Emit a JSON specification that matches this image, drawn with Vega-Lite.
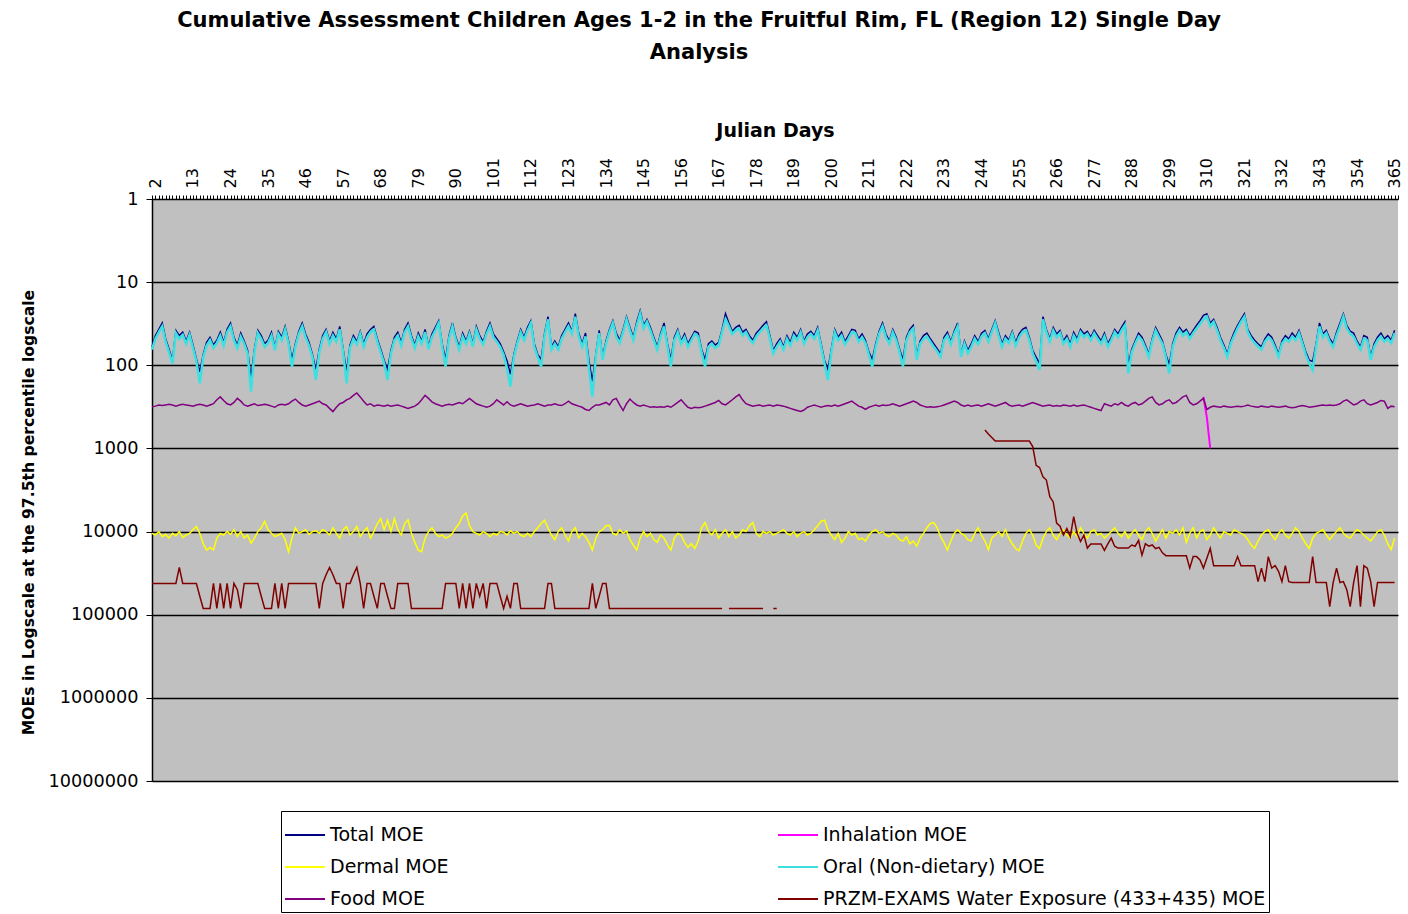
{
"$schema": "https://vega.github.io/schema/vega-lite/v6.json",
"width": 1246, "height": 582,
"autosize": {"type": "none"},
"padding": {"left": 152, "top": 199, "right": 10, "bottom": 133},
"background": "white",
"title": {"text": ["Cumulative Assessment Children Ages 1-2 in the Fruitful Rim, FL (Region 12) Single Day", "Analysis"], "anchor": "middle", "frame": "group", "dx": -76, "offset": 58, "font": "DejaVu Sans", "fontSize": 21, "fontWeight": "bold", "lineHeight": 32, "color": "black"},
"config": {
  "view": {"fill": "#c0c0c0", "stroke": null},
  "legend": {"orient": "none", "legendX": 129, "legendY": 612, "direction": "horizontal", "columns": 2, "columnPadding": 325, "rowPadding": 1, "padding": 3, "strokeColor": "black", "fillColor": "white", "symbolType": "stroke", "symbolSize": 1600, "symbolStrokeWidth": 2, "labelFont": "DejaVu Sans", "labelFontSize": 19, "labelLimit": 800, "labelOffset": 4, "labelColor": "black"}
},
"datasets": {
"inh": [{"d":309,"i":240},{"d":310,"i":420},{"d":311,"i":1000}],
"main": [
{"d":1,"o":65,"t":60,"f":315,"m":10500,"w":42000},
{"d":2,"o":48,"t":44,"f":310,"m":11000,"w":42000},
{"d":3,"o":40,"t":37,"f":300,"m":10000,"w":42000},
{"d":4,"o":34,"t":31,"f":305,"m":11500,"w":42000},
{"d":5,"o":52,"t":48,"f":300,"m":10800,"w":42000},
{"d":6,"o":70,"t":64,"f":295,"m":12000,"w":42000},
{"d":7,"o":95,"t":87,"f":300,"m":10500,"w":42000},
{"d":8,"o":41,"t":38,"f":310,"m":11200,"w":42000},
{"d":9,"o":48,"t":44,"f":300,"m":10000,"w":27000},
{"d":10,"o":43,"t":40,"f":295,"m":11800,"w":42000},
{"d":11,"o":55,"t":51,"f":300,"m":11000,"w":42000},
{"d":12,"o":43,"t":40,"f":305,"m":10500,"w":42000},
{"d":13,"o":62,"t":57,"f":310,"m":9500,"w":42000},
{"d":14,"o":90,"t":83,"f":300,"m":8700,"w":42000},
{"d":15,"o":165,"t":120,"f":295,"m":10500,"w":60000},
{"d":16,"o":80,"t":74,"f":300,"m":14000,"w":84000},
{"d":17,"o":58,"t":53,"f":310,"m":16700,"w":84000},
{"d":18,"o":50,"t":46,"f":300,"m":15500,"w":84000},
{"d":19,"o":62,"t":57,"f":290,"m":16700,"w":42000},
{"d":20,"o":54,"t":50,"f":260,"m":12000,"w":84000},
{"d":21,"o":44,"t":40,"f":240,"m":10500,"w":42000},
{"d":22,"o":58,"t":53,"f":265,"m":11000,"w":84000},
{"d":23,"o":40,"t":37,"f":290,"m":10000,"w":42000},
{"d":24,"o":34,"t":31,"f":300,"m":10800,"w":84000},
{"d":25,"o":50,"t":46,"f":280,"m":9500,"w":42000},
{"d":26,"o":62,"t":57,"f":250,"m":11500,"w":50000},
{"d":27,"o":45,"t":41,"f":270,"m":10000,"w":84000},
{"d":28,"o":55,"t":51,"f":300,"m":12000,"w":42000},
{"d":29,"o":72,"t":66,"f":310,"m":11000,"w":42000},
{"d":30,"o":208,"t":140,"f":300,"m":13800,"w":42000},
{"d":31,"o":70,"t":64,"f":290,"m":12000,"w":42000},
{"d":32,"o":41,"t":38,"f":305,"m":10000,"w":42000},
{"d":33,"o":48,"t":44,"f":300,"m":9000,"w":60000},
{"d":34,"o":60,"t":55,"f":295,"m":7500,"w":84000},
{"d":35,"o":54,"t":50,"f":300,"m":9500,"w":84000},
{"d":36,"o":44,"t":40,"f":310,"m":10500,"w":84000},
{"d":37,"o":66,"t":61,"f":320,"m":11500,"w":42000},
{"d":38,"o":42,"t":39,"f":300,"m":11000,"w":84000},
{"d":39,"o":50,"t":46,"f":295,"m":10500,"w":42000},
{"d":40,"o":37,"t":34,"f":300,"m":12500,"w":84000},
{"d":41,"o":55,"t":51,"f":290,"m":17500,"w":42000},
{"d":42,"o":104,"t":85,"f":270,"m":12000,"w":42000},
{"d":43,"o":60,"t":55,"f":255,"m":9000,"w":42000},
{"d":44,"o":42,"t":39,"f":280,"m":10500,"w":42000},
{"d":45,"o":34,"t":31,"f":300,"m":10000,"w":42000},
{"d":46,"o":46,"t":42,"f":310,"m":9500,"w":42000},
{"d":47,"o":58,"t":53,"f":300,"m":10800,"w":42000},
{"d":48,"o":80,"t":74,"f":290,"m":10000,"w":42000},
{"d":49,"o":150,"t":112,"f":280,"m":9800,"w":42000},
{"d":50,"o":70,"t":64,"f":270,"m":10500,"w":84000},
{"d":51,"o":48,"t":44,"f":290,"m":9500,"w":42000},
{"d":52,"o":40,"t":37,"f":300,"m":10000,"w":33000},
{"d":53,"o":55,"t":51,"f":330,"m":11000,"w":27000},
{"d":54,"o":44,"t":40,"f":360,"m":9000,"w":33000},
{"d":55,"o":52,"t":48,"f":320,"m":10500,"w":42000},
{"d":56,"o":37,"t":34,"f":290,"m":12000,"w":42000},
{"d":57,"o":70,"t":64,"f":280,"m":9500,"w":84000},
{"d":58,"o":165,"t":120,"f":260,"m":8700,"w":42000},
{"d":59,"o":62,"t":57,"f":250,"m":11000,"w":42000},
{"d":60,"o":48,"t":44,"f":230,"m":10000,"w":33000},
{"d":61,"o":56,"t":52,"f":215,"m":8700,"w":27000},
{"d":62,"o":42,"t":39,"f":240,"m":11500,"w":42000},
{"d":63,"o":60,"t":55,"f":270,"m":10000,"w":84000},
{"d":64,"o":46,"t":42,"f":300,"m":9000,"w":42000},
{"d":65,"o":40,"t":37,"f":290,"m":12000,"w":42000},
{"d":66,"o":37,"t":34,"f":310,"m":10000,"w":60000},
{"d":67,"o":52,"t":48,"f":300,"m":8000,"w":84000},
{"d":68,"o":70,"t":64,"f":305,"m":7000,"w":42000},
{"d":69,"o":95,"t":87,"f":310,"m":9500,"w":42000},
{"d":70,"o":150,"t":112,"f":300,"m":7300,"w":60000},
{"d":71,"o":72,"t":66,"f":310,"m":10000,"w":84000},
{"d":72,"o":50,"t":46,"f":305,"m":7000,"w":84000},
{"d":73,"o":44,"t":40,"f":300,"m":9500,"w":42000},
{"d":74,"o":58,"t":53,"f":310,"m":11000,"w":42000},
{"d":75,"o":40,"t":37,"f":320,"m":8000,"w":42000},
{"d":76,"o":34,"t":31,"f":330,"m":7200,"w":42000},
{"d":77,"o":48,"t":44,"f":320,"m":10500,"w":84000},
{"d":78,"o":62,"t":57,"f":310,"m":13500,"w":84000},
{"d":79,"o":45,"t":41,"f":290,"m":16700,"w":84000},
{"d":80,"o":55,"t":51,"f":260,"m":17500,"w":84000},
{"d":81,"o":40,"t":37,"f":230,"m":12000,"w":84000},
{"d":82,"o":64,"t":59,"f":250,"m":10000,"w":84000},
{"d":83,"o":46,"t":42,"f":275,"m":9000,"w":84000},
{"d":84,"o":38,"t":35,"f":290,"m":10500,"w":84000},
{"d":85,"o":31,"t":29,"f":300,"m":11500,"w":84000},
{"d":86,"o":60,"t":55,"f":310,"m":11000,"w":84000},
{"d":87,"o":104,"t":85,"f":300,"m":12000,"w":42000},
{"d":88,"o":48,"t":44,"f":295,"m":11500,"w":42000},
{"d":89,"o":34,"t":31,"f":300,"m":10500,"w":42000},
{"d":90,"o":50,"t":46,"f":290,"m":9000,"w":42000},
{"d":91,"o":65,"t":60,"f":280,"m":8000,"w":84000},
{"d":92,"o":45,"t":41,"f":290,"m":6500,"w":42000},
{"d":93,"o":55,"t":51,"f":270,"m":6000,"w":84000},
{"d":94,"o":42,"t":39,"f":250,"m":8500,"w":42000},
{"d":95,"o":60,"t":55,"f":270,"m":10000,"w":84000},
{"d":96,"o":37,"t":34,"f":290,"m":10500,"w":42000},
{"d":97,"o":48,"t":44,"f":300,"m":11000,"w":60000},
{"d":98,"o":56,"t":52,"f":310,"m":10000,"w":42000},
{"d":99,"o":42,"t":39,"f":320,"m":10500,"w":84000},
{"d":100,"o":34,"t":31,"f":310,"m":11500,"w":42000},
{"d":101,"o":46,"t":42,"f":290,"m":10500,"w":42000},
{"d":102,"o":52,"t":48,"f":260,"m":11000,"w":42000},
{"d":103,"o":60,"t":55,"f":280,"m":10000,"w":60000},
{"d":104,"o":75,"t":69,"f":300,"m":10200,"w":84000},
{"d":105,"o":110,"t":88,"f":275,"m":11000,"w":60000},
{"d":106,"o":181,"t":128,"f":300,"m":9800,"w":84000},
{"d":107,"o":80,"t":74,"f":310,"m":10500,"w":42000},
{"d":108,"o":55,"t":51,"f":300,"m":10000,"w":42000},
{"d":109,"o":40,"t":37,"f":290,"m":11000,"w":84000},
{"d":110,"o":50,"t":46,"f":300,"m":11500,"w":84000},
{"d":111,"o":38,"t":35,"f":310,"m":10500,"w":84000},
{"d":112,"o":31,"t":29,"f":305,"m":11500,"w":84000},
{"d":113,"o":60,"t":55,"f":300,"m":10000,"w":84000},
{"d":114,"o":80,"t":74,"f":290,"m":9000,"w":84000},
{"d":115,"o":104,"t":85,"f":300,"m":8000,"w":84000},
{"d":116,"o":45,"t":41,"f":310,"m":7300,"w":84000},
{"d":117,"o":28,"t":26,"f":300,"m":9000,"w":42000},
{"d":118,"o":65,"t":60,"f":300,"m":11000,"w":42000},
{"d":119,"o":55,"t":51,"f":290,"m":12500,"w":84000},
{"d":120,"o":65,"t":60,"f":300,"m":10000,"w":84000},
{"d":121,"o":48,"t":44,"f":305,"m":9000,"w":84000},
{"d":122,"o":40,"t":37,"f":290,"m":11000,"w":84000},
{"d":123,"o":34,"t":31,"f":270,"m":13000,"w":84000},
{"d":124,"o":42,"t":39,"f":290,"m":10000,"w":84000},
{"d":125,"o":26,"t":24,"f":300,"m":9000,"w":84000},
{"d":126,"o":45,"t":41,"f":310,"m":12000,"w":84000},
{"d":127,"o":60,"t":55,"f":320,"m":10500,"w":84000},
{"d":128,"o":45,"t":41,"f":340,"m":11500,"w":84000},
{"d":129,"o":110,"t":88,"f":350,"m":13500,"w":84000},
{"d":130,"o":239,"t":155,"f":320,"m":16700,"w":42000},
{"d":131,"o":80,"t":74,"f":300,"m":12000,"w":84000},
{"d":132,"o":41,"t":38,"f":300,"m":10000,"w":60000},
{"d":133,"o":86,"t":79,"f":290,"m":9500,"w":42000},
{"d":134,"o":55,"t":51,"f":280,"m":8500,"w":42000},
{"d":135,"o":40,"t":37,"f":300,"m":8400,"w":84000},
{"d":136,"o":31,"t":29,"f":260,"m":10500,"w":84000},
{"d":137,"o":45,"t":41,"f":250,"m":11000,"w":84000},
{"d":138,"o":54,"t":50,"f":300,"m":9500,"w":84000},
{"d":139,"o":40,"t":37,"f":350,"m":10500,"w":84000},
{"d":140,"o":28,"t":26,"f":290,"m":9800,"w":84000},
{"d":141,"o":38,"t":35,"f":255,"m":12500,"w":84000},
{"d":142,"o":50,"t":46,"f":280,"m":14500,"w":84000},
{"d":143,"o":33,"t":30,"f":300,"m":16700,"w":84000},
{"d":144,"o":24,"t":22,"f":310,"m":12000,"w":84000},
{"d":145,"o":36,"t":33,"f":300,"m":10000,"w":84000},
{"d":146,"o":30,"t":28,"f":310,"m":11500,"w":84000},
{"d":147,"o":38,"t":35,"f":320,"m":10500,"w":84000},
{"d":148,"o":50,"t":46,"f":315,"m":12500,"w":84000},
{"d":149,"o":65,"t":60,"f":320,"m":13500,"w":84000},
{"d":150,"o":45,"t":41,"f":315,"m":11000,"w":84000},
{"d":151,"o":34,"t":31,"f":320,"m":12000,"w":84000},
{"d":152,"o":60,"t":55,"f":310,"m":14500,"w":84000},
{"d":153,"o":104,"t":85,"f":320,"m":16700,"w":84000},
{"d":154,"o":50,"t":46,"f":300,"m":12000,"w":84000},
{"d":155,"o":40,"t":37,"f":280,"m":10500,"w":84000},
{"d":156,"o":55,"t":51,"f":260,"m":11000,"w":84000},
{"d":157,"o":46,"t":42,"f":290,"m":13500,"w":84000},
{"d":158,"o":60,"t":55,"f":320,"m":15500,"w":84000},
{"d":159,"o":50,"t":46,"f":330,"m":14000,"w":84000},
{"d":160,"o":42,"t":39,"f":320,"m":16000,"w":84000},
{"d":161,"o":45,"t":41,"f":325,"m":13000,"w":84000},
{"d":162,"o":70,"t":64,"f":320,"m":9000,"w":84000},
{"d":163,"o":104,"t":85,"f":310,"m":7800,"w":84000},
{"d":164,"o":60,"t":55,"f":300,"m":10000,"w":84000},
{"d":165,"o":55,"t":51,"f":290,"m":11000,"w":84000},
{"d":166,"o":62,"t":57,"f":280,"m":9500,"w":84000},
{"d":167,"o":58,"t":53,"f":265,"m":12000,"w":84000},
{"d":168,"o":40,"t":37,"f":290,"m":10500,"w":84000},
{"d":169,"o":28,"t":24,"f":300,"m":9500},
{"d":170,"o":34,"t":31,"f":280,"m":11500,"w":84000},
{"d":171,"o":42,"t":39,"f":260,"m":10000,"w":84000},
{"d":172,"o":38,"t":35,"f":240,"m":12000,"w":84000},
{"d":173,"o":36,"t":33,"f":225,"m":11000,"w":84000},
{"d":174,"o":44,"t":40,"f":260,"m":9500,"w":84000},
{"d":175,"o":40,"t":37,"f":290,"m":10000,"w":84000},
{"d":176,"o":48,"t":44,"f":300,"m":8500,"w":84000},
{"d":177,"o":54,"t":50,"f":310,"m":7800,"w":84000},
{"d":178,"o":45,"t":41,"f":305,"m":10500,"w":84000},
{"d":179,"o":40,"t":37,"f":300,"m":11500,"w":84000},
{"d":180,"o":36,"t":33,"f":310,"m":10000,"w":84000},
{"d":181,"o":33,"t":30,"f":305,"m":10500},
{"d":182,"o":48,"t":44,"f":300,"m":10000},
{"d":183,"o":72,"t":66,"f":310,"m":11000,"w":84000},
{"d":184,"o":60,"t":55,"f":300,"m":10500,"w":84000},
{"d":185,"o":52,"t":48,"f":305,"m":10000},
{"d":186,"o":65,"t":60,"f":310,"m":9500},
{"d":187,"o":48,"t":44,"f":320,"m":10500},
{"d":188,"o":58,"t":53,"f":330,"m":11000},
{"d":189,"o":44,"t":40,"f":340,"m":10000},
{"d":190,"o":50,"t":46,"f":350,"m":11500},
{"d":191,"o":40,"t":37,"f":360,"m":10500},
{"d":192,"o":55,"t":51,"f":345,"m":10000},
{"d":193,"o":46,"t":42,"f":320,"m":11000},
{"d":194,"o":42,"t":39,"f":310,"m":10500},
{"d":195,"o":48,"t":44,"f":300,"m":9500},
{"d":196,"o":38,"t":35,"f":310,"m":8500},
{"d":197,"o":60,"t":55,"f":320,"m":7500},
{"d":198,"o":95,"t":87,"f":310,"m":7300},
{"d":199,"o":150,"t":112,"f":305,"m":9500},
{"d":200,"o":70,"t":64,"f":310,"m":11000},
{"d":201,"o":40,"t":37,"f":300,"m":12500},
{"d":202,"o":50,"t":46,"f":310,"m":10500},
{"d":203,"o":44,"t":40,"f":300,"m":13500},
{"d":204,"o":56,"t":52,"f":290,"m":12000},
{"d":205,"o":48,"t":44,"f":280,"m":10000},
{"d":206,"o":40,"t":37,"f":270,"m":11000},
{"d":207,"o":41,"t":38,"f":290,"m":10500},
{"d":208,"o":52,"t":48,"f":310,"m":12500},
{"d":209,"o":46,"t":42,"f":320,"m":12000},
{"d":210,"o":54,"t":50,"f":340,"m":13000},
{"d":211,"o":75,"t":69,"f":320,"m":11000},
{"d":212,"o":104,"t":85,"f":310,"m":10000},
{"d":213,"o":60,"t":55,"f":300,"m":9500},
{"d":214,"o":42,"t":39,"f":310,"m":10500},
{"d":215,"o":34,"t":31,"f":300,"m":10000},
{"d":216,"o":46,"t":42,"f":305,"m":11000},
{"d":217,"o":55,"t":51,"f":300,"m":11500},
{"d":218,"o":40,"t":37,"f":290,"m":10500},
{"d":219,"o":50,"t":46,"f":300,"m":11000},
{"d":220,"o":70,"t":64,"f":310,"m":12500},
{"d":221,"o":104,"t":85,"f":300,"m":13000},
{"d":222,"o":50,"t":46,"f":290,"m":11500},
{"d":223,"o":40,"t":37,"f":280,"m":14000},
{"d":224,"o":36,"t":33,"f":270,"m":13000},
{"d":225,"o":86,"t":79,"f":280,"m":15000},
{"d":226,"o":55,"t":51,"f":300,"m":12000},
{"d":227,"o":48,"t":44,"f":310,"m":10500},
{"d":228,"o":45,"t":41,"f":320,"m":9000},
{"d":229,"o":52,"t":48,"f":315,"m":8000},
{"d":230,"o":60,"t":55,"f":320,"m":7800},
{"d":231,"o":68,"t":63,"f":315,"m":9000},
{"d":232,"o":79,"t":73,"f":310,"m":11500},
{"d":233,"o":50,"t":46,"f":300,"m":13500},
{"d":234,"o":44,"t":40,"f":290,"m":16700},
{"d":235,"o":56,"t":52,"f":280,"m":13000},
{"d":236,"o":42,"t":39,"f":270,"m":10500},
{"d":237,"o":34,"t":31,"f":280,"m":9500},
{"d":238,"o":79,"t":73,"f":300,"m":10500},
{"d":239,"o":55,"t":51,"f":310,"m":11000},
{"d":240,"o":72,"t":66,"f":300,"m":12500},
{"d":241,"o":60,"t":55,"f":310,"m":13000},
{"d":242,"o":48,"t":44,"f":305,"m":10500},
{"d":243,"o":56,"t":52,"f":300,"m":9000},
{"d":244,"o":45,"t":41,"f":310,"m":11000},
{"d":245,"o":41,"t":38,"f":300,"m":13000,"w":600},
{"d":246,"o":52,"t":48,"f":290,"m":16500,"w":670},
{"d":247,"o":40,"t":37,"f":300,"m":12000,"w":740},
{"d":248,"o":31,"t":29,"f":310,"m":11000,"w":815},
{"d":249,"o":44,"t":40,"f":300,"m":10000,"w":815},
{"d":250,"o":60,"t":55,"f":290,"m":11500,"w":815},
{"d":251,"o":48,"t":44,"f":280,"m":9500,"w":815},
{"d":252,"o":54,"t":50,"f":300,"m":12000,"w":815},
{"d":253,"o":42,"t":39,"f":310,"m":14000,"w":815},
{"d":254,"o":58,"t":53,"f":305,"m":16000,"w":815},
{"d":255,"o":46,"t":42,"f":300,"m":17000,"w":815},
{"d":256,"o":40,"t":37,"f":310,"m":13000,"w":815},
{"d":257,"o":38,"t":35,"f":300,"m":10500,"w":815},
{"d":258,"o":50,"t":46,"f":290,"m":9500,"w":815},
{"d":259,"o":72,"t":66,"f":280,"m":11000,"w":950},
{"d":260,"o":90,"t":80,"f":290,"m":14500,"w":1600},
{"d":261,"o":114,"t":95,"f":300,"m":16000,"w":1700},
{"d":262,"o":28,"t":26,"f":310,"m":12000,"w":2200},
{"d":263,"o":40,"t":37,"f":305,"m":10000,"w":2400},
{"d":264,"o":52,"t":48,"f":300,"m":9000,"w":3800},
{"d":265,"o":38,"t":35,"f":310,"m":11000,"w":4400},
{"d":266,"o":46,"t":42,"f":305,"m":12500,"w":7900},
{"d":267,"o":41,"t":38,"f":310,"m":10500,"w":8600},
{"d":268,"o":55,"t":51,"f":300,"m":9500,"w":11000},
{"d":269,"o":48,"t":44,"f":305,"m":11000,"w":9200},
{"d":270,"o":60,"t":55,"f":310,"m":12000,"w":11500},
{"d":271,"o":44,"t":40,"f":300,"m":10000,"w":6600},
{"d":272,"o":52,"t":48,"f":310,"m":11500,"w":10500},
{"d":273,"o":40,"t":37,"f":305,"m":9000,"w":13200},
{"d":274,"o":46,"t":42,"f":300,"m":10500,"w":11000},
{"d":275,"o":42,"t":39,"f":310,"m":12000,"w":15800},
{"d":276,"o":50,"t":46,"f":320,"m":10000,"w":14100},
{"d":277,"o":41,"t":38,"f":330,"m":9500,"w":14100},
{"d":278,"o":48,"t":44,"f":340,"m":11000,"w":14100},
{"d":279,"o":55,"t":51,"f":350,"m":10500,"w":14100},
{"d":280,"o":45,"t":41,"f":290,"m":12000,"w":16800},
{"d":281,"o":60,"t":55,"f":300,"m":11000,"w":14100},
{"d":282,"o":50,"t":46,"f":310,"m":10000,"w":12000},
{"d":283,"o":40,"t":37,"f":290,"m":9000,"w":15000},
{"d":284,"o":46,"t":42,"f":300,"m":10500,"w":15800},
{"d":285,"o":38,"t":35,"f":280,"m":11500,"w":15800},
{"d":286,"o":33,"t":30,"f":300,"m":10000,"w":15800},
{"d":287,"o":125,"t":98,"f":310,"m":12000,"w":15800},
{"d":288,"o":70,"t":64,"f":290,"m":10500,"w":14500},
{"d":289,"o":55,"t":51,"f":280,"m":9500,"w":15000},
{"d":290,"o":45,"t":41,"f":300,"m":11000,"w":12800},
{"d":291,"o":50,"t":46,"f":290,"m":12500,"w":19200},
{"d":292,"o":62,"t":57,"f":270,"m":10000,"w":14000},
{"d":293,"o":79,"t":73,"f":250,"m":9000,"w":15000},
{"d":294,"o":52,"t":48,"f":240,"m":10500,"w":14500},
{"d":295,"o":38,"t":35,"f":280,"m":13000,"w":16000},
{"d":296,"o":46,"t":42,"f":300,"m":11000,"w":15500},
{"d":297,"o":55,"t":51,"f":290,"m":9500,"w":18000},
{"d":298,"o":80,"t":74,"f":270,"m":12000,"w":19500},
{"d":299,"o":125,"t":98,"f":260,"m":10000,"w":19500},
{"d":300,"o":60,"t":55,"f":290,"m":10500,"w":19500},
{"d":301,"o":45,"t":41,"f":280,"m":9500,"w":19500},
{"d":302,"o":38,"t":35,"f":260,"m":11000,"w":19500},
{"d":303,"o":44,"t":40,"f":240,"m":9000,"w":19500},
{"d":304,"o":40,"t":37,"f":230,"m":13500,"w":19500},
{"d":305,"o":48,"t":44,"f":280,"m":10500,"w":27500},
{"d":306,"o":41,"t":38,"f":300,"m":9000,"w":20000},
{"d":307,"o":36,"t":33,"f":290,"m":12000,"w":20000},
{"d":308,"o":32,"t":29,"f":270,"m":10000,"w":22000},
{"d":309,"o":28,"t":25,"f":250,"m":9500,"w":27500},
{"d":310,"o":26,"t":24,"f":340,"m":12500,"w":21000},
{"d":311,"o":34,"t":31,"f":320,"m":11000,"w":15900},
{"d":312,"o":30,"t":28,"f":310,"m":9000,"w":25700},
{"d":313,"o":38,"t":35,"f":315,"m":10500,"w":25700},
{"d":314,"o":50,"t":46,"f":320,"m":12000,"w":25700},
{"d":315,"o":62,"t":57,"f":310,"m":10000,"w":25700},
{"d":316,"o":79,"t":73,"f":315,"m":10500,"w":25700},
{"d":317,"o":55,"t":51,"f":320,"m":11000,"w":25700},
{"d":318,"o":44,"t":40,"f":315,"m":9500,"w":25700},
{"d":319,"o":36,"t":33,"f":310,"m":10000,"w":20000},
{"d":320,"o":30,"t":28,"f":315,"m":10500,"w":25700},
{"d":321,"o":26,"t":24,"f":310,"m":11000,"w":25700},
{"d":322,"o":40,"t":37,"f":300,"m":12500,"w":25700},
{"d":323,"o":48,"t":44,"f":310,"m":14500,"w":25700},
{"d":324,"o":54,"t":50,"f":315,"m":16000,"w":25700},
{"d":325,"o":60,"t":55,"f":320,"m":13000,"w":40000},
{"d":326,"o":65,"t":60,"f":310,"m":11000,"w":27500},
{"d":327,"o":52,"t":48,"f":315,"m":10000,"w":40000},
{"d":328,"o":46,"t":42,"f":320,"m":9500,"w":20000},
{"d":329,"o":50,"t":46,"f":310,"m":11000,"w":27500},
{"d":330,"o":62,"t":57,"f":315,"m":12500,"w":25700},
{"d":331,"o":79,"t":73,"f":320,"m":10500,"w":30000},
{"d":332,"o":55,"t":51,"f":315,"m":9500,"w":40000},
{"d":333,"o":48,"t":44,"f":310,"m":11000,"w":25700},
{"d":334,"o":52,"t":48,"f":320,"m":12000,"w":40000},
{"d":335,"o":45,"t":41,"f":325,"m":10500,"w":41000},
{"d":336,"o":50,"t":46,"f":320,"m":9000,"w":41000},
{"d":337,"o":41,"t":38,"f":310,"m":10000,"w":41000},
{"d":338,"o":55,"t":51,"f":305,"m":12000,"w":41000},
{"d":339,"o":75,"t":69,"f":310,"m":14000,"w":41000},
{"d":340,"o":95,"t":87,"f":320,"m":16000,"w":41000},
{"d":341,"o":114,"t":90,"f":315,"m":12000,"w":20000},
{"d":342,"o":60,"t":55,"f":310,"m":10500,"w":41000},
{"d":343,"o":34,"t":31,"f":305,"m":10000,"w":41000},
{"d":344,"o":46,"t":42,"f":300,"m":9500,"w":41000},
{"d":345,"o":41,"t":38,"f":305,"m":11000,"w":41000},
{"d":346,"o":52,"t":48,"f":300,"m":12500,"w":80000},
{"d":347,"o":60,"t":55,"f":305,"m":11000,"w":41000},
{"d":348,"o":44,"t":40,"f":300,"m":10000,"w":27500},
{"d":349,"o":34,"t":31,"f":290,"m":9000,"w":41000},
{"d":350,"o":26,"t":24,"f":270,"m":10500,"w":40000},
{"d":351,"o":36,"t":33,"f":260,"m":11500,"w":50000},
{"d":352,"o":42,"t":39,"f":280,"m":12000,"w":80000},
{"d":353,"o":45,"t":41,"f":300,"m":10500,"w":41000},
{"d":354,"o":55,"t":51,"f":290,"m":9500,"w":25700},
{"d":355,"o":65,"t":60,"f":270,"m":10000,"w":80000},
{"d":356,"o":48,"t":44,"f":260,"m":11000,"w":25700},
{"d":357,"o":50,"t":46,"f":290,"m":12000,"w":27500},
{"d":358,"o":86,"t":79,"f":300,"m":13000,"w":40000},
{"d":359,"o":60,"t":55,"f":290,"m":11500,"w":80000},
{"d":360,"o":50,"t":46,"f":280,"m":10000,"w":41000},
{"d":361,"o":45,"t":41,"f":265,"m":9500,"w":41000},
{"d":362,"o":52,"t":48,"f":270,"m":11000,"w":41000},
{"d":363,"o":48,"t":44,"f":330,"m":14000,"w":41000},
{"d":364,"o":54,"t":50,"f":310,"m":16500,"w":41000},
{"d":365,"o":41,"t":38,"f":315,"m":12000,"w":41000}
]},
"data": {"name": "main"},
"encoding": {
  "x": {"field": "d", "type": "quantitative", "scale": {"domain": [1, 366], "nice": false, "zero": false},
    "axis": {"orient": "top", "tickCount": 365, "format": "d", "labelExpr": "(datum.value - 2) % 11 == 0 ? datum.label : ''", "labelAngle": 270, "labelAlign": "left", "labelBaseline": "middle", "labelOverlap": false, "labelFlush": false, "labelBound": false, "labelPadding": 7, "tickSize": 4, "tickColor": "black", "domainColor": "black", "grid": false, "labelFont": "DejaVu Sans", "labelFontSize": 16, "labelColor": "black", "title": "Julian Days", "titleFont": "DejaVu Sans", "titleFontSize": 19, "titleFontWeight": "bold", "titlePadding": 17, "titleColor": "black"}}
},
"layer": [
 {"mark": {"type": "line", "strokeWidth": 1.5, "invalid": "break-paths-filter-domains"},
  "encoding": {
   "y": {"field": "t", "type": "quantitative", "title": "MOEs in Logscale at the 97.5th percentile logscale", "scale": {"type": "log", "domain": [1, 10000000], "reverse": true, "nice": false},
     "axis": {"values": [1, 10, 100, 1000, 10000, 100000, 1000000, 10000000], "format": "d", "grid": true, "gridColor": "black", "gridWidth": 1.5, "gridOpacity": 1, "domainColor": "black", "domainWidth": 1.5, "tickColor": "black", "tickSize": 6, "labelFont": "DejaVu Sans", "labelFontSize": 17.7, "labelPadding": 8, "labelColor": "black", "titleFont": "DejaVu Sans", "titleFontSize": 15.6, "titleFontWeight": "bold", "titleColor": "black", "titleX": -116, "titleY": 313}},
   "color": {"datum": "Total MOE", "title": null, "scale": {"domain": ["Total MOE", "Inhalation MOE", "Dermal MOE", "Oral (Non-dietary) MOE", "Food MOE", "PRZM-EXAMS Water Exposure (433+435) MOE"], "range": ["#000080", "#ff00ff", "#ffff00", "#3ce0e0", "#800080", "#800000"]}}
  }},
 {"data": {"name": "inh"},
  "mark": {"type": "line", "strokeWidth": 2, "invalid": "break-paths-filter-domains"},
  "encoding": {
   "y": {"field": "i", "type": "quantitative", "title": "MOEs in Logscale at the 97.5th percentile logscale", "scale": {"type": "log", "domain": [1, 10000000], "reverse": true, "nice": false}},
   "color": {"datum": "Inhalation MOE", "title": null}
  }},
 {"mark": {"type": "line", "strokeWidth": 1.5, "invalid": "break-paths-filter-domains"},
  "encoding": {
   "y": {"field": "m", "type": "quantitative", "title": "MOEs in Logscale at the 97.5th percentile logscale", "scale": {"type": "log", "domain": [1, 10000000], "reverse": true, "nice": false}},
   "color": {"datum": "Dermal MOE", "title": null}
  }},
 {"mark": {"type": "line", "strokeWidth": 2.5, "invalid": "break-paths-filter-domains"},
  "encoding": {
   "y": {"field": "o", "type": "quantitative", "title": "MOEs in Logscale at the 97.5th percentile logscale", "scale": {"type": "log", "domain": [1, 10000000], "reverse": true, "nice": false}},
   "color": {"datum": "Oral (Non-dietary) MOE", "title": null}
  }},
 {"mark": {"type": "line", "strokeWidth": 1.5, "invalid": "break-paths-filter-domains"},
  "encoding": {
   "y": {"field": "f", "type": "quantitative", "title": "MOEs in Logscale at the 97.5th percentile logscale", "scale": {"type": "log", "domain": [1, 10000000], "reverse": true, "nice": false}},
   "color": {"datum": "Food MOE", "title": null}
  }},
 {"mark": {"type": "line", "strokeWidth": 1.5, "invalid": "break-paths-filter-domains"},
  "encoding": {
   "y": {"field": "w", "type": "quantitative", "title": "MOEs in Logscale at the 97.5th percentile logscale", "scale": {"type": "log", "domain": [1, 10000000], "reverse": true, "nice": false}},
   "color": {"datum": "PRZM-EXAMS Water Exposure (433+435) MOE", "title": null}
  }}
]
}
